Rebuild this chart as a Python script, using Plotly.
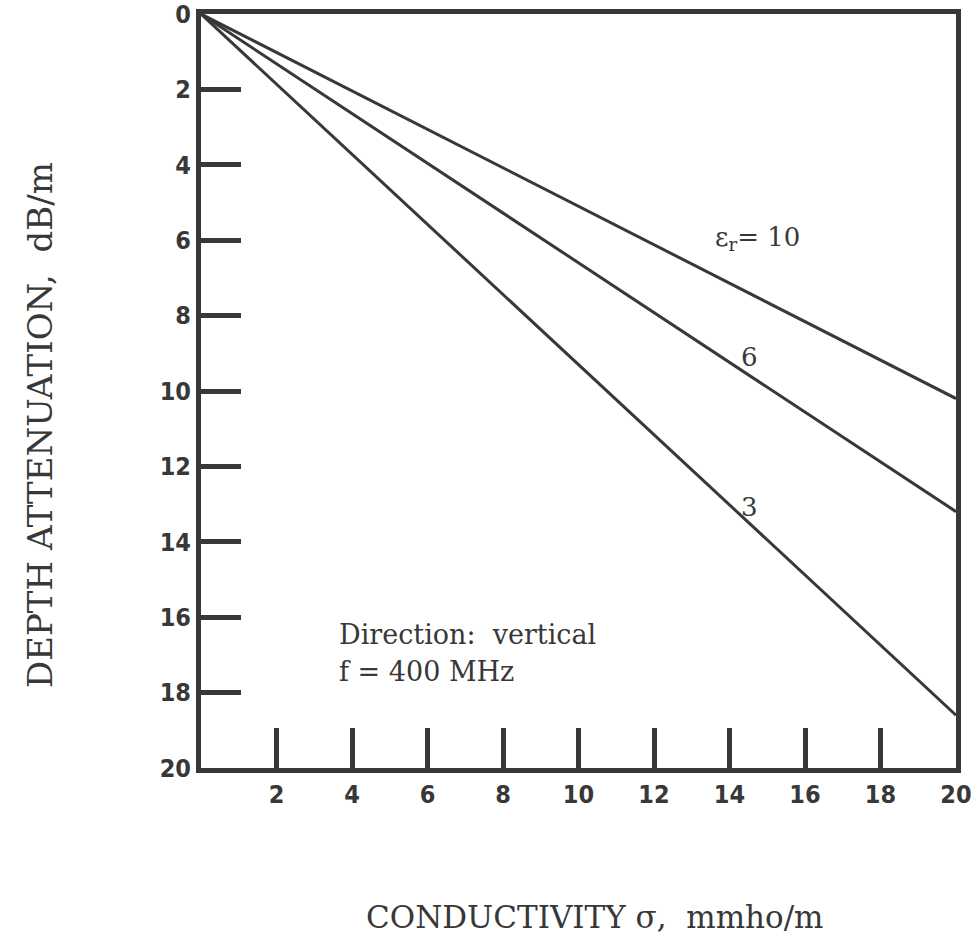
import plotly.graph_objects as go

# Depth attenuation vs conductivity at 400 MHz, vertical direction
conductivity = [0, 20]
eps_labels = ["10", "6", "3"]
attenuation = {
    "10": [0, 10.2],
    "6": [0, 13.2],
    "3": [0, 18.6],
}
x_ticks = [2, 4, 6, 8, 10, 12, 14, 16, 18, 20]
y_ticks = [0, 2, 4, 6, 8, 10, 12, 14, 16, 18, 20]

ink = "#383838"
num_font = dict(family="Liberation Sans Narrow, DejaVu Sans Condensed, Arial Narrow, sans-serif",
                size=25, color=ink, weight="bold")
serif_family = "DejaVu Serif, Liberation Serif, serif"
serif = dict(family=serif_family, size=26, color=ink)

fig = go.Figure()
for eps in eps_labels:
    fig.add_trace(go.Scatter(
        x=conductivity, y=attenuation[eps], mode="lines",
        line=dict(color=ink, width=3), showlegend=False, name=eps,
    ))

# curve labels and notes
fig.add_annotation(x=14.75, y=5.95, text="\u03b5<sub>r</sub>= 10", showarrow=False,
                   font=serif, xanchor="center", yanchor="middle")
fig.add_annotation(x=14.52, y=9.1, text="6", showarrow=False, font=serif)
fig.add_annotation(x=14.52, y=13.08, text="3", showarrow=False, font=serif)
fig.add_annotation(x=3.6, y=16.47, text="Direction:  vertical", showarrow=False,
                   font=dict(family=serif_family, size=27, color=ink),
                   xanchor="left", yanchor="middle")
fig.add_annotation(x=3.6, y=17.45, text="f = 400 MHz", showarrow=False,
                   font=dict(family=serif_family, size=27, color=ink),
                   xanchor="left", yanchor="middle")

# axis titles
fig.add_annotation(xref="paper", yref="paper", x=0.522, y=-0.198,
                   text="CONDUCTIVITY \u03c3,  mmho/m", showarrow=False,
                   font=dict(family=serif_family, size=31, color=ink),
                   xanchor="center", yanchor="middle")
fig.add_annotation(xref="paper", yref="paper", x=-0.213, y=0.455,
                   text="DEPTH ATTENUATION,  dB/m", showarrow=False, textangle=-90,
                   font=dict(family=serif_family, size=34, color=ink),
                   xanchor="center", yanchor="middle")

fig.update_layout(
    width=971, height=942,
    margin=dict(l=201, r=15, t=14, b=174),
    paper_bgcolor="white", plot_bgcolor="white",
)
fig.update_xaxes(
    range=[0, 20], tickvals=x_ticks, ticktext=[str(v) for v in x_ticks],
    ticks="inside", ticklen=40, tickwidth=5, tickcolor=ink,
    showline=True, linewidth=5, linecolor=ink, mirror=True,
    showgrid=False, zeroline=False, tickfont=num_font, automargin=False,
    ticklabeloverflow="allow",
)
fig.update_yaxes(
    range=[20, 0], tickvals=y_ticks, ticktext=[str(v) for v in y_ticks],
    ticks="inside", ticklen=40, tickwidth=5, tickcolor=ink,
    showline=True, linewidth=5, linecolor=ink, mirror=True,
    showgrid=False, zeroline=False, tickfont=num_font, automargin=False,
    ticklabeloverflow="allow",
)

fig.write_html("out.html")
